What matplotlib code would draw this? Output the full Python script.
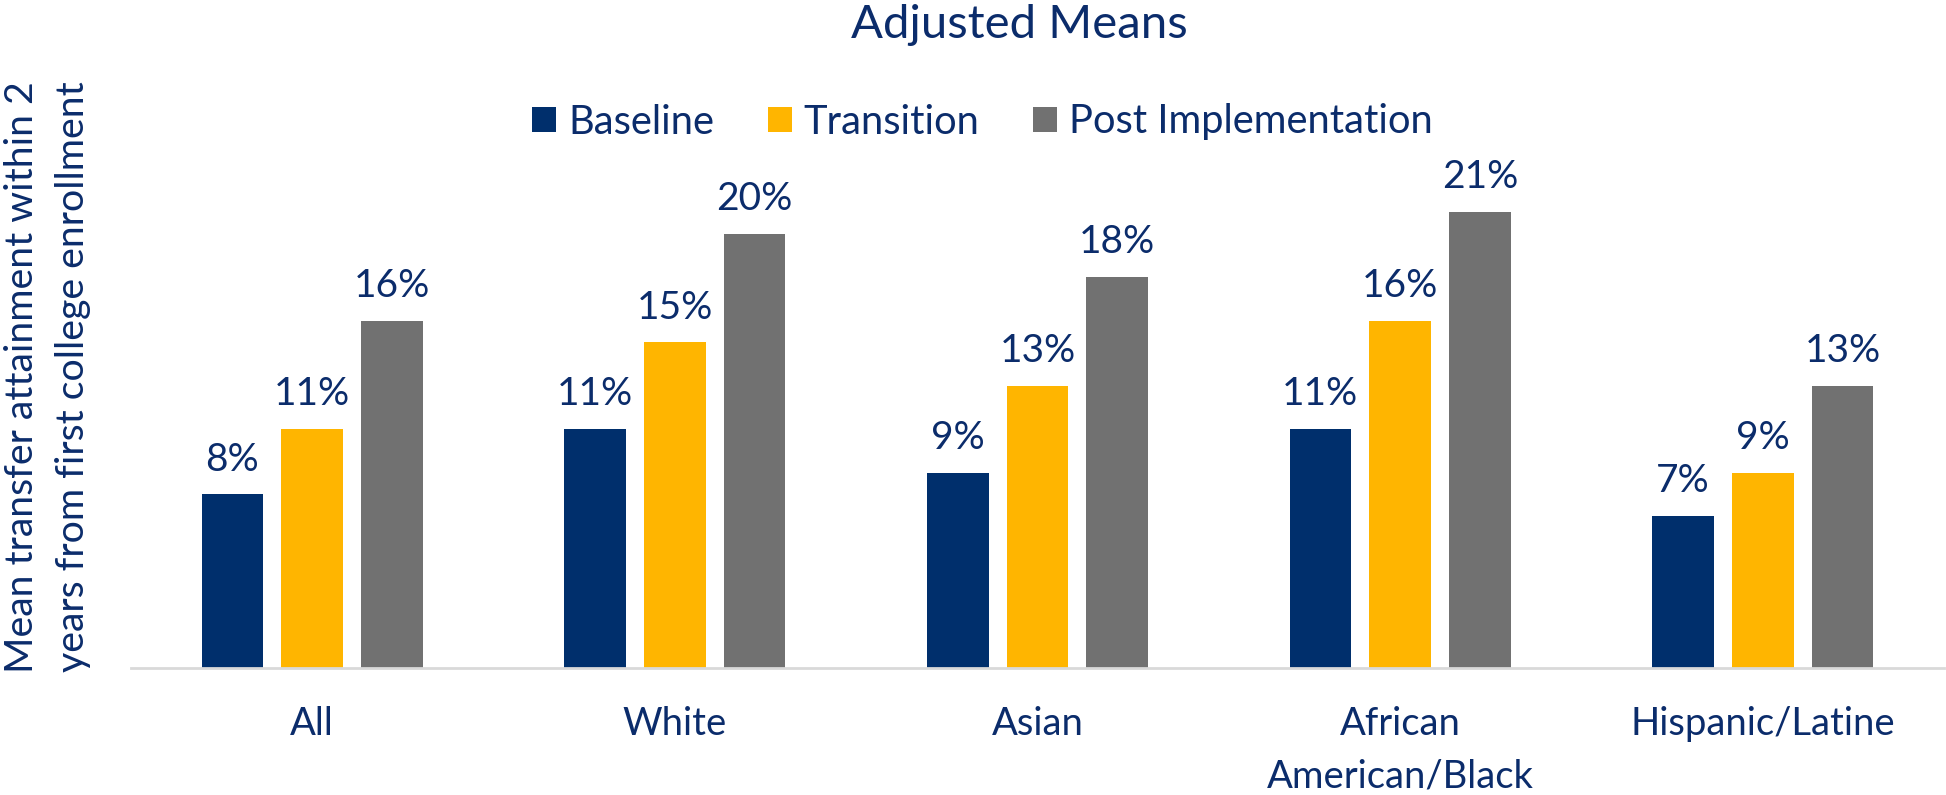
import numpy as np
import matplotlib
matplotlib.use("Agg")
import matplotlib.pyplot as plt

categories = ["All", "White", "Asian", "African\nAmerican/Black", "Hispanic/Latine"]
series = ["Baseline", "Transition", "Post Implementation"]
baseline = [8, 11, 9, 11, 7]
transition = [11, 15, 13, 16, 9]
post = [16, 20, 18, 21, 13]

colors = ["#002F6C", "#FFB500", "#717171"]
txt = "#0B2C6B"

plt.rcParams["font.family"] = ["Lato", "DejaVu Sans"]

fig = plt.figure(figsize=(19.46, 7.95), dpi=100)
ax = fig.add_axes([0.0673, 0.1597, 0.9317, 0.683])

x = np.arange(len(categories))
w = 0.17
step = 0.22
allvals = [baseline, transition, post]
for i, (name, vals) in enumerate(zip(series, allvals)):
    bars = ax.bar(x + (i - 1) * step, vals, width=w, color=colors[i], label=name)
    for b, v in zip(bars, vals):
        ax.annotate(f"{v}%", (b.get_x() + b.get_width() / 2, v),
                    xytext=(0, 12), textcoords="offset points",
                    ha="center", va="bottom", fontsize=28, color=txt)

ax.set_xlim(-0.5, len(categories) - 0.5)
ax.set_ylim(0, 25)
ax.set_xticks(x)
ax.set_xticklabels(categories, fontsize=27.5, color=txt, linespacing=1.6, va="top")
ax.tick_params(axis="x", length=0, pad=27)
ax.set_yticks([])
for s in ["top", "right", "left"]:
    ax.spines[s].set_visible(False)
ax.spines["bottom"].set_color("#D9D9D9")
ax.spines["bottom"].set_linewidth(2)

fig.text(1019.5 / 1946, 1 - 38 / 795, "Adjusted Means", ha="center", va="baseline",
         fontsize=34, color=txt)

fig.legend(loc="center", bbox_to_anchor=(982.5 / 1946, 1 - 122 / 795), ncol=3, frameon=False,
           fontsize=28.7, handlelength=0.6, handleheight=0.6, handletextpad=0.3,
           columnspacing=1.35, labelcolor=txt)

# y label, two lines placed by baseline
ylab = ["Mean transfer attainment within 2", "years from first college enrollment"]
for xb, line in zip([33, 84], ylab):
    fig.text(xb / 1946, 1 - 377 / 795, line, rotation=90, rotation_mode="anchor",
             ha="center", va="baseline", fontsize=28.3, color=txt)

fig.savefig("out.png", dpi=100)
